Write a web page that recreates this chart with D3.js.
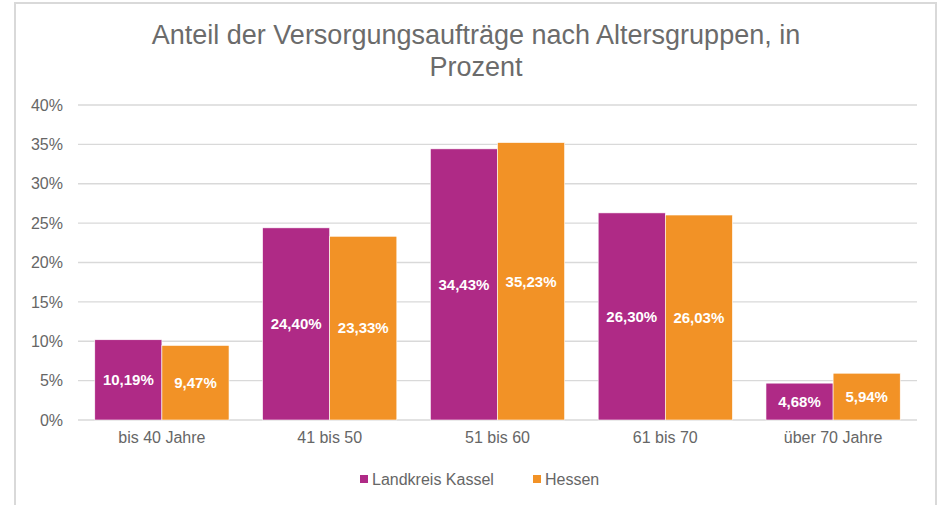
<!DOCTYPE html>
<html>
<head>
<meta charset="utf-8">
<script src="https://cdn.jsdelivr.net/npm/d3@7"></script>
<style>
  body { margin: 0; background: #fff; }
  text { font-family: "Liberation Sans", Arial, sans-serif; }
</style>
</head>
<body>
<div class="chart"></div>
<script>
var categories = ["bis 40 Jahre", "41 bis 50", "51 bis 60", "61 bis 70", "über 70 Jahre"];
var seriesNames = ["Landkreis Kassel", "Hessen"];
var kassel = [10.19, 24.40, 34.43, 26.30, 4.68];
var hessen = [9.47, 23.33, 35.23, 26.03, 5.94];
var yTicks = [0, 5, 10, 15, 20, 25, 30, 35, 40];
var colors = ["#AF2A86", "#F29226"];

var svgWidth = 942;
var svgHeight = 505;

var margin = { top: 105, right: 25, bottom: 85, left: 78 };
var width = svgWidth - margin.left - margin.right;
var height = svgHeight - margin.top - margin.bottom;

var svg = d3.select(".chart")
  .append("svg")
  .attr("width", svgWidth)
  .attr("height", svgHeight);

// outer frame
svg.append("rect")
  .attr("x", 15)
  .attr("y", 3)
  .attr("width", 921)
  .attr("height", 520)
  .attr("fill", "none")
  .attr("stroke", "#d9d9d9")
  .attr("stroke-width", 2);

// title
var title = svg.append("text")
  .attr("x", 476)
  .attr("y", 44)
  .attr("text-anchor", "middle")
  .attr("fill", "#6b6b6b")
  .style("font-size", "27px");
title.append("tspan").attr("x", 476).text("Anteil der Versorgungsaufträge nach Altersgruppen, in");
title.append("tspan").attr("x", 476).attr("dy", 32).text("Prozent");

var chartGroup = svg.append("g")
  .attr("transform", `translate(${margin.left}, ${margin.top})`);

var data = categories.map(function(c, i) {
  return { cat: c, values: [kassel[i], hessen[i]] };
});

var xScale = d3.scaleBand()
  .domain(categories)
  .range([0, width])
  .paddingInner(0.2)
  .paddingOuter(0.1);

var xSub = d3.scaleBand()
  .domain([0, 1])
  .range([0, xScale.bandwidth()]);

var yScale = d3.scaleLinear()
  .domain([0, 40])
  .range([height, 0]);

// gridlines
chartGroup.append("g")
  .selectAll("line")
  .data(yTicks)
  .enter()
  .append("line")
  .attr("x1", 0)
  .attr("x2", width)
  .attr("y1", d => yScale(d))
  .attr("y2", d => yScale(d))
  .attr("stroke", "#d9d9d9")
  .attr("stroke-width", 1.3);

// y axis labels
var leftAxis = d3.axisLeft(yScale)
  .tickValues(yTicks)
  .tickSize(0)
  .tickPadding(15)
  .tickFormat(d => d + "%");

chartGroup.append("g")
  .call(leftAxis)
  .call(g => g.select(".domain").remove())
  .selectAll("text")
  .attr("fill", "#666")
  .style("font-size", "16px");

// x axis labels
var bottomAxis = d3.axisBottom(xScale).tickSize(0).tickPadding(12);
chartGroup.append("g")
  .attr("transform", `translate(0, ${height})`)
  .call(bottomAxis)
  .call(g => g.select(".domain").remove())
  .selectAll("text")
  .attr("fill", "#666")
  .style("font-size", "16px");

// bars
var groups = chartGroup.selectAll(".grp")
  .data(data)
  .enter()
  .append("g")
  .attr("class", "grp")
  .attr("transform", d => `translate(${xScale(d.cat)}, 0)`);

groups.selectAll("rect")
  .data(d => d.values)
  .enter()
  .append("rect")
  .attr("x", (d, i) => xSub(i))
  .attr("y", d => yScale(d))
  .attr("width", xSub.bandwidth())
  .attr("height", d => height - yScale(d))
  .attr("fill", (d, i) => colors[i])
  .attr("stroke", "#fff")
  .attr("stroke-width", 0.6);

groups.selectAll(".lbl")
  .data(d => d.values)
  .enter()
  .append("text")
  .attr("class", "lbl")
  .attr("x", (d, i) => xSub(i) + xSub.bandwidth() / 2)
  .attr("y", d => (yScale(d) + height) / 2)
  .attr("dy", "0.35em")
  .attr("text-anchor", "middle")
  .attr("fill", "#fff")
  .style("font-size", "15px")
  .style("font-weight", "bold")
  .text(d => d.toFixed(2).replace(".", ",") + "%");

// legend
var legendItems = [
  { name: seriesNames[0], x: 360 },
  { name: seriesNames[1], x: 533 }
];
var legend = svg.append("g");
legend.selectAll("rect")
  .data(legendItems)
  .enter()
  .append("rect")
  .attr("x", d => d.x)
  .attr("y", 475)
  .attr("width", 8)
  .attr("height", 8)
  .attr("fill", (d, i) => colors[i]);
legend.selectAll("text")
  .data(legendItems)
  .enter()
  .append("text")
  .attr("x", d => d.x + 12)
  .attr("y", 485)
  .attr("fill", "#666")
  .style("font-size", "16px")
  .text(d => d.name);
</script>
</body>
</html>
